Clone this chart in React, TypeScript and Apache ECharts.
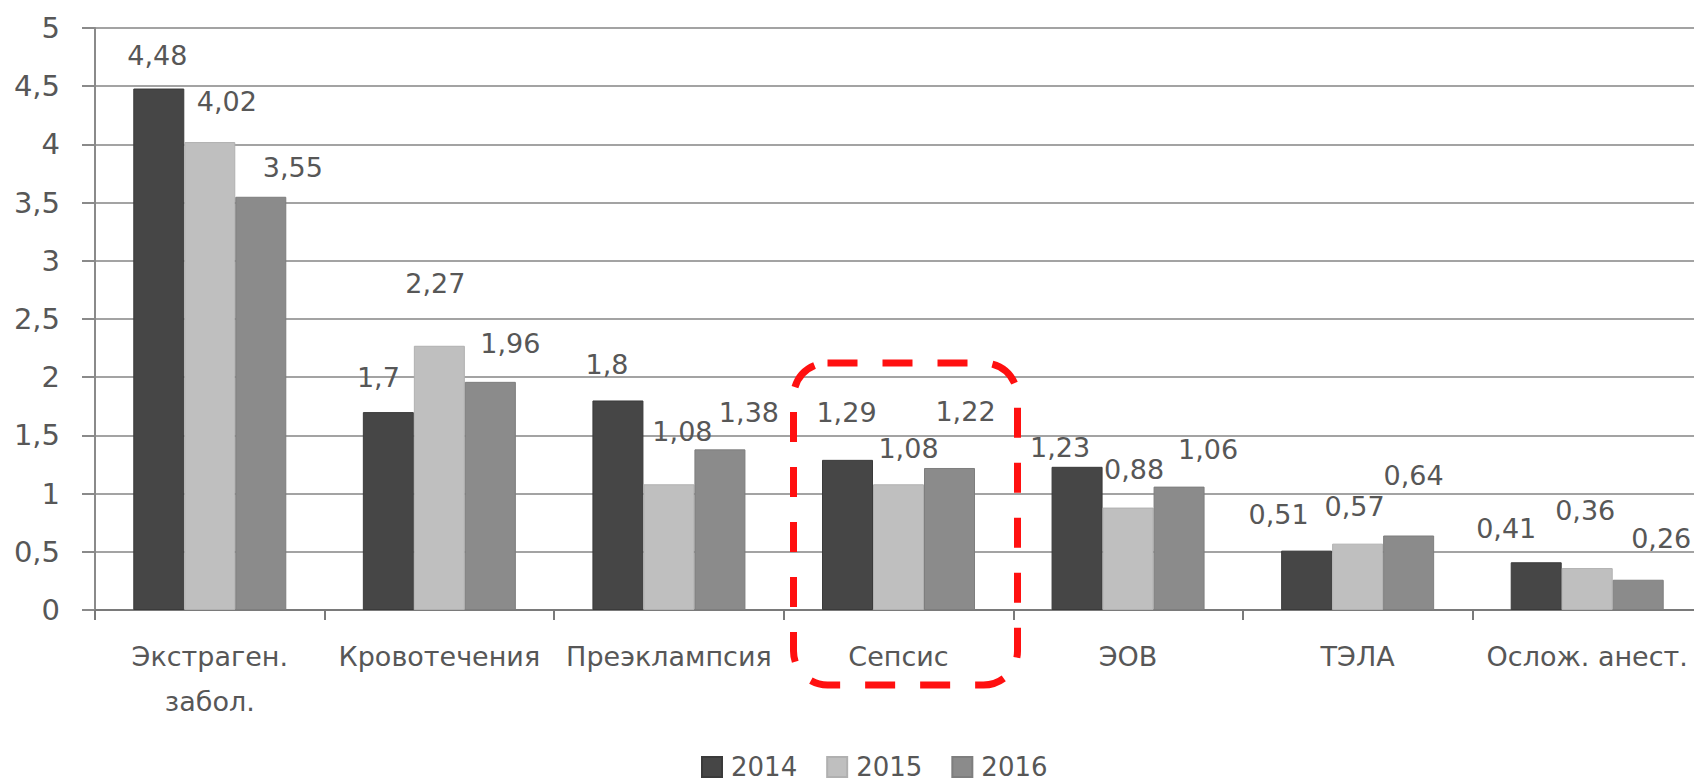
import React, { useEffect, useRef } from "react";
import * as echarts from "echarts";

const categories = [
  "Экстраген.\nзабол.",
  "Кровотечения",
  "Преэклампсия",
  "Сепсис",
  "ЭОВ",
  "ТЭЛА",
  "Ослож. анест.",
];
const years = ["2014", "2015", "2016"];
const values2014 = [4.48, 1.7, 1.8, 1.29, 1.23, 0.51, 0.41];
const values2015 = [4.02, 2.27, 1.08, 1.08, 0.88, 0.57, 0.36];
const values2016 = [3.55, 1.96, 1.38, 1.22, 1.06, 0.64, 0.26];
const yTicks = [0, 0.5, 1, 1.5, 2, 2.5, 3, 3.5, 4, 4.5, 5];

// label placement (Excel-style scattered labels)
const labelOffsets2014 = [[-1.5, -19.5], [-10, -21.5], [-11, -22.5], [-1, -33.5], [-17, -5.5], [-28, -22.5], [-30, -20.5]];
const labelOffsets2015 = [[17, -27.5], [-4, -48.5], [13.5, -39.5], [10, -22.5], [6, -24.5], [-3, -23.5], [-2, -44.5]];
const labelOffsets2016 = [[32, -15.5], [20, -24.5], [29, -23.5], [16, -42.5], [29, -23.5], [5, -46.5], [23, -27.5]];

const colors = ["#464646", "#bfbfbf", "#8b8b8b"];
const borders = ["#3a3a3a", "#b0b0b0", "#7e7e7e"];
const FONT = "DejaVu Sans";
const TEXT = "#575757";

const fmt = (v: number) => String(v).replace(".", ",");

export default function App() {
  const ref = useRef<HTMLDivElement>(null);
  useEffect(() => {
    if (!ref.current) return;
    const chart = echarts.init(ref.current, null, { renderer: "svg" });
    const seriesValues = [values2014, values2015, values2016];
    const offsets = [labelOffsets2014, labelOffsets2015, labelOffsets2016];
    chart.setOption({
      animation: false,
      backgroundColor: "#ffffff",
      grid: {
        left: 95,
        right: -8,
        top: 28,
        bottom: 174,
        containLabel: false,
        outerBoundsMode: "none",
      },
      legend: {
        data: years,
        left: 701,
        top: 754,
        padding: 0,
        itemWidth: 20,
        itemHeight: 20,
        itemGap: 29,
        icon: "rect",
        textStyle: {
          fontFamily: FONT,
          fontSize: 26,
          lineHeight: 22,
          color: TEXT,
          padding: [0, 0, 0, 4],
        },
      },
      xAxis: {
        type: "category",
        data: categories,
        axisLine: { show: true, lineStyle: { color: "#7a7a7a", width: 2 } },
        axisTick: { show: true, interval: 0, length: 10, lineStyle: { color: "#7a7a7a", width: 2 } },
        axisLabel: {
          interval: 0,
          margin: 24,
          fontFamily: FONT,
          fontSize: 27,
          lineHeight: 45,
          color: TEXT,
        },
        splitLine: { show: false },
      },
      yAxis: {
        type: "value",
        min: 0,
        max: 5,
        interval: 0.5,
        axisLine: { show: true, lineStyle: { color: "#8a8a8a", width: 2 } },
        axisTick: { show: true, length: 13, lineStyle: { color: "#8a8a8a", width: 2 } },
        axisLabel: {
          margin: 35,
          fontFamily: FONT,
          fontSize: 29,
          color: TEXT,
          formatter: (v: number) => (yTicks.includes(v) ? fmt(v) : ""),
        },
        splitLine: { show: true, lineStyle: { color: "#a3a3a3", width: 2 } },
      },
      series: years.map((y, si) => ({
        name: y,
        type: "bar",
        barWidth: 51,
        barGap: "0%",
        itemStyle: { color: colors[si], borderColor: borders[si], borderWidth: 1 },
        data: seriesValues[si].map((v, i) => ({
          value: v,
          label: {
            show: true,
            position: "top",
            distance: 0,
            offset: offsets[si][i],
            formatter: fmt(v),
            fontFamily: FONT,
            fontSize: 27,
            color: TEXT,
          },
        })),
      })),
    });
    const cx = chart.convertToPixel({ xAxisIndex: 0 }, categories[3]) as number;
    chart.setOption({
      graphic: [
        {
          type: "rect",
          shape: { x: cx - 105, y: 363, width: 224, height: 322, r: 34 },
          style: { fill: "none", stroke: "#ff1010", lineWidth: 7, lineDash: [30, 25] },
          z: 100,
        },
      ],
    });
    return () => chart.dispose();
  }, []);
  return (
    <div
      ref={ref}
      style={{ position: "absolute", left: 0, top: 0, width: 1694, height: 784 }}
    />
  );
}
